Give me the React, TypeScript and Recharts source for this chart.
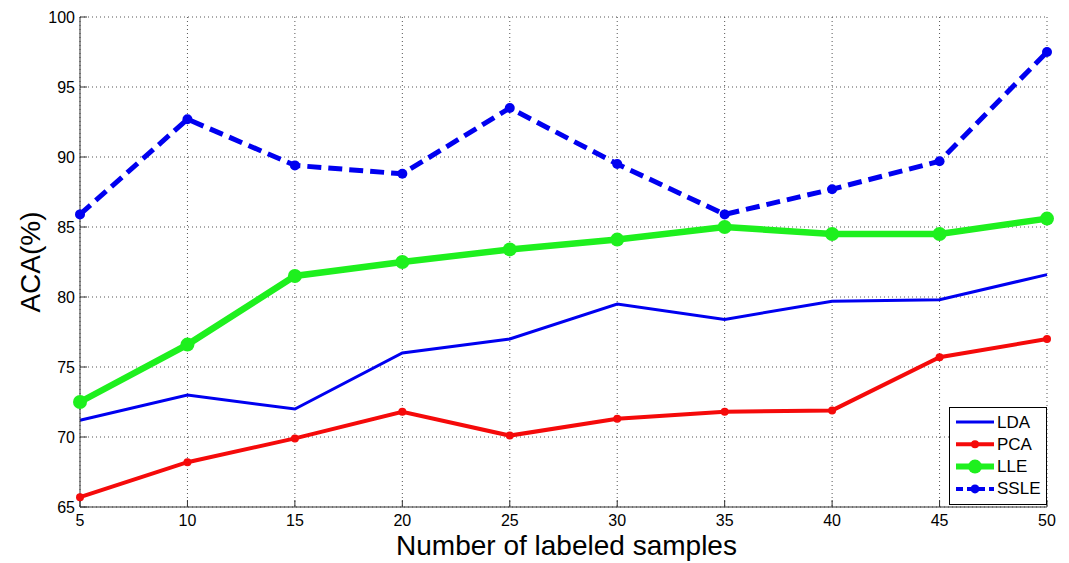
import React from 'react';
import { LineChart, Line, XAxis, YAxis, CartesianGrid, Legend } from 'recharts';

const samples = [5, 10, 15, 20, 25, 30, 35, 40, 45, 50];
const lda = [71.2, 73.0, 72.0, 76.0, 77.0, 79.5, 78.4, 79.7, 79.8, 81.6];
const pca = [65.7, 68.2, 69.9, 71.8, 70.1, 71.3, 71.8, 71.9, 75.7, 77.0];
const lle = [72.5, 76.6, 81.5, 82.5, 83.4, 84.1, 85.0, 84.5, 84.5, 85.6];
const ssle = [85.9, 92.7, 89.4, 88.8, 93.5, 89.5, 85.9, 87.7, 89.7, 97.5];
const xTicks = [5, 10, 15, 20, 25, 30, 35, 40, 45, 50];
const yTicks = [65, 70, 75, 80, 85, 90, 95, 100];

const data = samples.map((s, i) => ({ s, LDA: lda[i], PCA: pca[i], LLE: lle[i], SSLE: ssle[i] }));

const FONT = "Arial, 'Liberation Sans', sans-serif";
const BLUE = '#0000F0';
const RED = '#F50A0A';
const GREEN = '#1EF01E';

const legendItems = [
  { name: 'LDA', color: BLUE, width: 3, dash: undefined as string | undefined, r: 0 },
  { name: 'PCA', color: RED, width: 4, dash: undefined, r: 4 },
  { name: 'LLE', color: GREEN, width: 6, dash: undefined, r: 7 },
  { name: 'SSLE', color: BLUE, width: 4, dash: '7 4', r: 4.5 },
];

const LegendBox = () => (
  <div style={{ width: 96, height: 96, border: '1px solid #000', background: '#fff', fontFamily: FONT, fontSize: 17 }}>
    <svg width={96} height={96}>
      {legendItems.map((it, i) => {
        const y = 14 + i * 22.3;
        return (
          <g key={it.name}>
            <line x1={6} x2={44} y1={y} y2={y} stroke={it.color} strokeWidth={it.width} strokeDasharray={it.dash} />
            {it.r > 0 && <circle cx={25} cy={y} r={it.r} fill={it.color} />}
            <text x={47} y={y} dominantBaseline="central" fill="#000" fontSize={17} fontFamily={FONT}>{it.name}</text>
          </g>
        );
      })}
    </svg>
  </div>
);

export default function App() {
  return (
    <LineChart width={1061} height={555} data={data} margin={{ top: 9, right: 22, bottom: 0, left: 0 }} style={{ background: '#fff' }}>
      <CartesianGrid stroke="#555" strokeDasharray="1 3" strokeWidth={1} />
      <XAxis
        dataKey="s"
        type="number"
        domain={[5, 50]}
        ticks={xTicks}
        height={56}
        stroke="#333"
        tickSize={-7}
        tickMargin={15}
        tick={{ fill: '#000', fontSize: 16, fontFamily: FONT }}
        label={{ value: 'Number of labeled samples', position: 'center', dy: 10, dx: 3, fill: '#000', fontSize: 28, fontFamily: FONT }}
      />
      <YAxis
        type="number"
        domain={[65, 100]}
        ticks={yTicks}
        width={72}
        stroke="#333"
        tickSize={-7}
        tickMargin={12}
        tick={{ fill: '#000', fontSize: 16, fontFamily: FONT }}
        label={{ value: 'ACA(%)', angle: -90, position: 'center', dx: -14, fill: '#000', fontSize: 28, fontFamily: FONT }}
      />
      <Line dataKey="LDA" stroke={BLUE} strokeWidth={3} dot={false} isAnimationActive={false} />
      <Line dataKey="PCA" stroke={RED} strokeWidth={4} dot={{ r: 4, fill: RED, stroke: RED, strokeWidth: 0 }} isAnimationActive={false} />
      <Line dataKey="LLE" stroke={GREEN} strokeWidth={6.5} dot={{ r: 7, fill: GREEN, stroke: GREEN, strokeWidth: 0 }} isAnimationActive={false} />
      <Line dataKey="SSLE" stroke={BLUE} strokeWidth={5} strokeDasharray="14 7" dot={{ r: 5, fill: BLUE, stroke: BLUE, strokeWidth: 0 }} isAnimationActive={false} />
      <Legend
        layout="horizontal"
        verticalAlign="middle"
        align="center"
        wrapperStyle={{ left: 941, top: 399, width: 98, height: 98 }}
        content={() => <LegendBox />}
      />
    </LineChart>
  );
}
